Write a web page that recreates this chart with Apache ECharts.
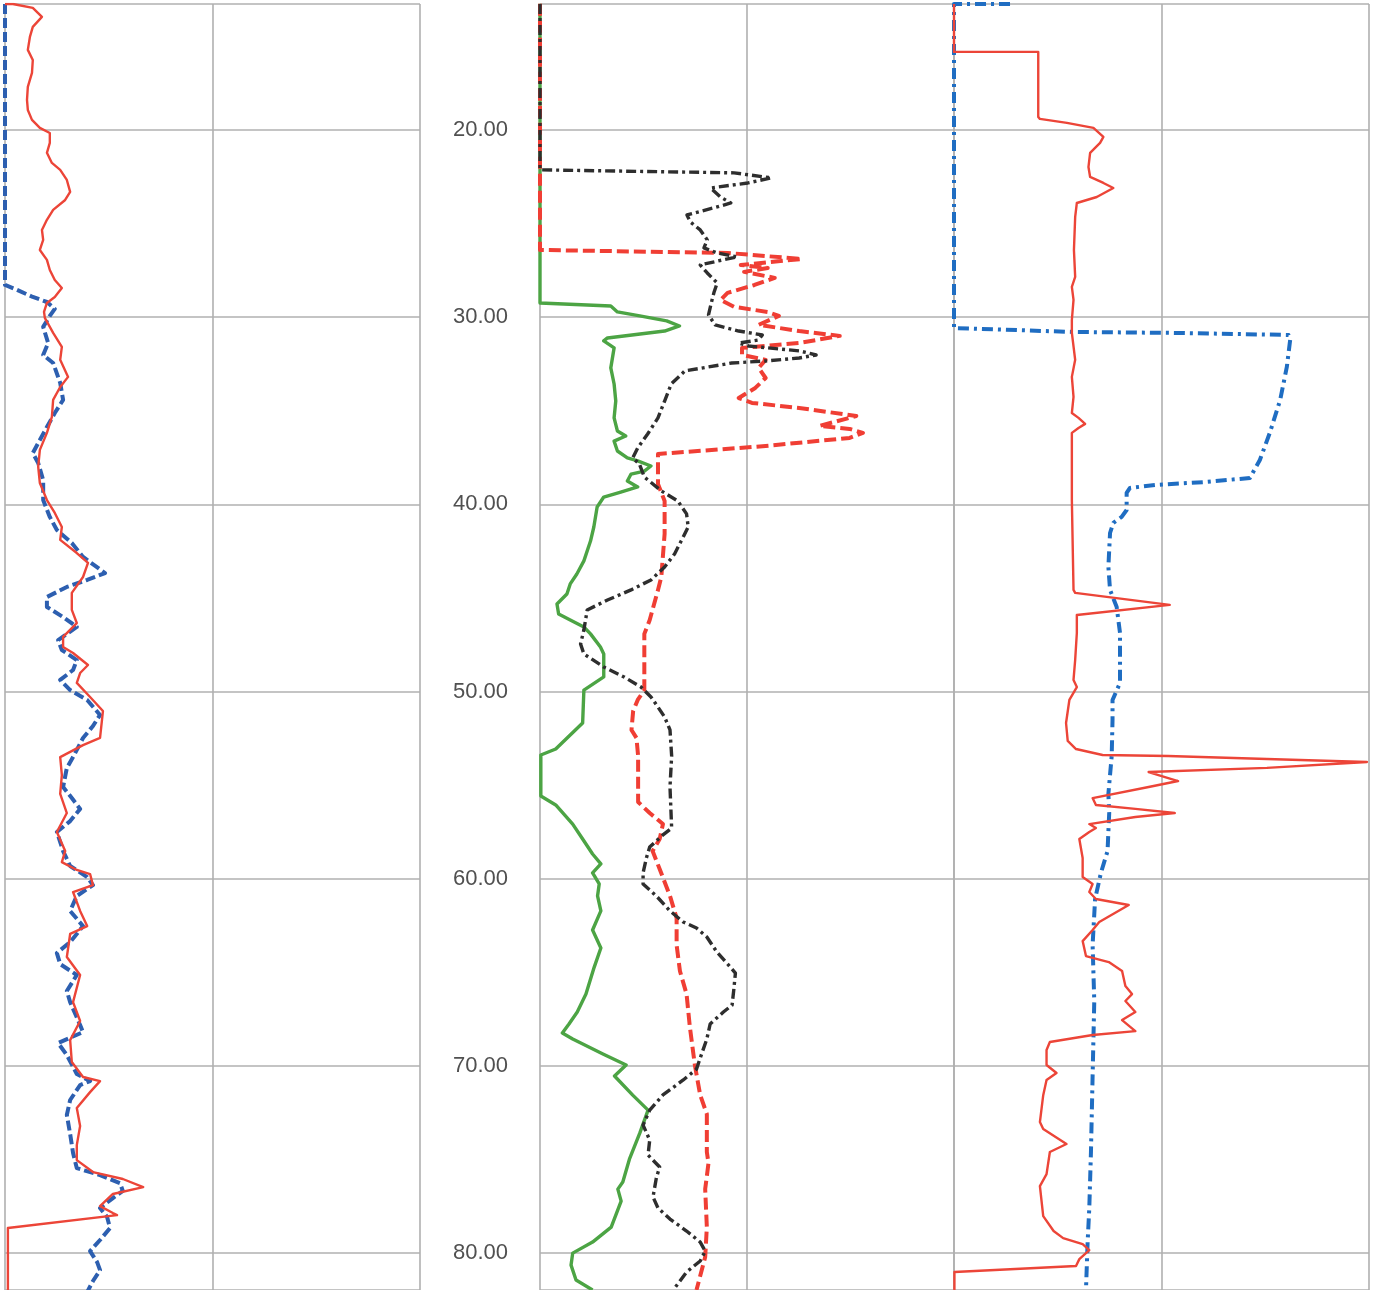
<!DOCTYPE html>
<html>
<head>
<meta charset="utf-8">
<script src="https://cdn.jsdelivr.net/npm/echarts@6/dist/echarts.min.js"></script>
<style>
html,body{margin:0;padding:0;background:#fff;}
#chart{width:1377px;height:1290px;}
</style>
</head>
<body>
<div id="chart"></div>
<script>
// Depth range (m) shown on the vertical axis
const depthMin = 13.27;
const depthMax = 81.97;
const depthTicks = [20, 30, 40, 50, 60, 70, 80];

// Track 1 : [value, depth]
const track1Red = [[0,13.27],[1.9,13.27],[6.7,13.48],[8.9,13.96],[6.7,14.49],[6.0,15.03],[5.5,15.72],[6.7,16.26],[6.5,16.95],[5.5,17.70],[5.3,18.39],[5.5,18.93],[6.5,19.46],[8.4,19.89],[10.8,20.16],[10.8,20.69],[10.1,21.22],[11.3,21.76],[13.3,22.13],[14.9,22.67],[15.7,23.31],[14.5,23.74],[11.6,24.27],[10.1,24.80],[8.9,25.34],[9.2,25.87],[8.4,26.41],[10.1,26.94],[10.8,27.48],[12.0,28.01],[13.7,28.44],[12.0,28.92],[10.1,29.24],[9.4,29.72],[9.6,30.04],[11.6,30.84],[13.7,31.59],[13.3,32.28],[15.2,33.19],[13.3,33.73],[11.6,34.42],[11.3,35.33],[10.1,36.18],[8.4,37.09],[8.0,38.00],[8.4,38.86],[10.1,39.77],[12.0,40.46],[13.7,41.21],[13.3,41.90],[17.3,42.60],[20.0,43.13],[18.8,43.88],[16.1,44.73],[16.1,45.64],[17.3,46.34],[14.0,47.08],[14.0,47.62],[16.4,47.94],[20.0,48.58],[18.1,49.01],[17.3,49.54],[20.5,50.29],[23.6,51.04],[22.9,52.48],[18.8,52.86],[13.3,53.50],[13.7,54.46],[13.3,55.47],[14.9,56.49],[12.5,57.50],[14.5,58.52],[13.7,59.11],[17.3,59.53],[20.5,59.75],[21.2,60.34],[16.4,60.71],[18.1,61.72],[19.8,62.53],[15.7,62.95],[14.9,64.18],[18.1,65.14],[16.4,66.59],[18.1,67.60],[15.7,68.62],[16.1,69.79],[18.8,70.59],[22.9,70.81],[20.5,71.40],[17.3,72.25],[18.1,73.21],[17.3,74.23],[17.3,75.03],[21.2,75.67],[28.4,76.04],[33.3,76.47],[26.0,76.84],[22.9,77.49],[26.0,77.86],[27.0,77.97],[0.7,78.66],[0.7,81.97]];
const track1Blue = [[0,13.27],[0,28.28],[2.9,28.54],[6.7,28.92],[10.1,29.19],[12.0,29.56],[10.8,29.93],[9.2,30.52],[10.4,31.38],[9.2,32.02],[11.6,32.45],[13.3,33.51],[14.0,34.42],[12.0,35.12],[10.1,35.87],[8.4,36.56],[6.7,37.26],[8.0,37.79],[9.2,38.70],[9.2,39.77],[10.8,40.67],[12.5,41.37],[16.1,42.06],[18.8,42.81],[24.1,43.67],[19.8,44.04],[14.9,44.41],[10.1,44.95],[10.1,45.48],[14.0,46.02],[17.3,46.55],[12.8,47.25],[13.7,47.78],[17.3,48.32],[16.4,48.85],[13.3,49.38],[15.7,49.92],[19.8,50.45],[22.9,51.25],[21.2,51.84],[18.8,52.48],[16.4,53.50],[14.9,54.08],[14.0,55.10],[16.1,55.69],[18.1,56.27],[15.7,56.92],[12.5,57.50],[14.0,58.52],[15.7,59.32],[19.8,59.91],[21.2,60.34],[17.3,60.92],[15.7,61.72],[18.8,62.53],[15.7,63.38],[12.5,63.97],[13.3,64.56],[17.3,65.14],[14.9,66.00],[15.7,66.59],[18.1,67.82],[18.8,68.19],[12.8,68.78],[14.9,69.42],[17.3,70.43],[20.5,70.81],[18.1,71.02],[15.7,71.82],[14.9,72.62],[15.7,73.64],[16.4,74.65],[17.3,75.46],[22.9,75.83],[27.7,76.26],[28.4,76.68],[26.0,77.06],[22.9,77.59],[24.6,78.07],[25.3,78.66],[22.9,79.30],[20.5,79.89],[22.2,80.48],[22.9,80.91],[21.2,81.49],[19.8,82.08]];

// Track 2 : [value, depth]
const track2Black = [[0,13.27],[0,22.13],[46.9,22.29],[55.9,22.56],[50.2,22.83],[41.2,23.10],[43.6,23.58],[46.1,23.90],[42.8,24.11],[35.5,24.54],[36.3,24.91],[38.7,25.34],[40.4,25.87],[39.6,26.30],[42.8,26.57],[47.7,26.78],[44.2,26.94],[38.7,27.21],[40.4,27.64],[42.8,28.17],[42.0,28.70],[41.5,29.13],[40.7,29.88],[42.3,30.41],[48.0,30.74],[53.7,30.95],[52.8,31.22],[48.0,31.38],[50.4,31.54],[62.6,31.80],[66.7,32.02],[62.6,32.18],[54.5,32.34],[46.3,32.45],[35.0,32.87],[31.7,33.57],[30.1,34.48],[28.5,35.38],[26.0,36.24],[23.6,36.99],[22.4,37.52],[24.0,37.84],[25.2,38.54],[29.3,39.28],[33.3,39.82],[35.4,40.51],[35.8,41.21],[34.1,41.96],[32.5,42.65],[30.1,43.35],[26.8,44.04],[22.0,44.57],[16.3,45.11],[11.4,45.64],[11.0,46.18],[10.6,46.71],[9.8,47.46],[10.6,47.99],[15.4,48.69],[20.3,49.22],[24.4,49.76],[26.8,50.29],[28.5,50.83],[30.1,51.36],[31.4,52.05],[31.8,53.44],[31.4,55.10],[31.8,57.29],[29.7,57.66],[26.5,58.31],[25.7,58.89],[24.9,59.69],[24.9,60.28],[28.1,60.92],[31.4,61.72],[34.6,62.31],[37.8,62.63],[40.3,63.11],[42.7,63.91],[45.1,64.50],[47.2,65.04],[46.8,65.95],[46.4,66.75],[44.3,67.12],[41.1,67.76],[40.3,68.56],[38.7,69.58],[37.8,70.17],[34.6,70.75],[29.7,71.55],[26.5,72.36],[24.9,73.16],[26.5,73.96],[26.1,74.76],[28.9,75.40],[28.1,75.99],[27.3,77.00],[28.5,77.59],[31.4,78.18],[35.4,78.82],[38.7,79.41],[39.9,79.89],[38.7,80.42],[35.4,81.01],[32.2,81.97]];
const track2Red = [[0,13.26],[0,26.41],[45.3,26.57],[63.2,26.89],[48.5,27.21],[55.0,27.37],[49.3,27.58],[56.7,27.90],[51.8,28.28],[45.3,28.70],[43.6,29.08],[46.9,29.45],[55.0,29.72],[57.7,29.93],[52.8,30.41],[62.6,30.74],[72.4,31.00],[62.6,31.38],[48.8,31.64],[48.8,32.02],[54.5,32.28],[52.8,32.71],[54.5,33.25],[52.0,33.78],[48.0,34.32],[51.2,34.58],[62.6,34.85],[76.4,35.28],[67.5,35.81],[74.8,35.97],[78.0,36.18],[74.8,36.45],[54.5,36.88],[28.5,37.31],[28.5,38.91],[30.1,39.82],[30.1,41.58],[29.3,43.88],[28.5,44.57],[26.5,46.18],[25.2,46.92],[25.2,49.92],[23.6,50.45],[22.5,51.04],[22.1,52.05],[23.3,52.48],[23.7,53.44],[23.7,55.90],[26.5,56.49],[29.7,57.08],[28.9,57.88],[27.2,58.52],[28.9,59.48],[31.4,60.92],[33.0,62.10],[33.0,63.54],[33.8,64.93],[35.4,66.16],[36.2,67.92],[37.4,69.95],[38.7,71.56],[40.3,72.57],[40.3,74.60],[40.7,75.19],[39.9,76.58],[40.3,78.61],[39.9,80.21],[37.8,81.97]];
const track2Green = [[0,13.26],[0,29.24],[17.1,29.40],[18.7,29.72],[24.1,29.93],[30.6,30.20],[33.7,30.47],[30.1,30.74],[16.3,31.11],[15.4,31.27],[17.9,31.64],[17.1,32.71],[17.9,33.57],[18.3,34.48],[17.9,35.38],[18.7,36.08],[20.7,36.35],[17.9,36.62],[18.7,37.15],[21.1,37.52],[23.6,37.68],[26.8,37.95],[25.2,38.22],[22.0,38.38],[21.1,38.75],[23.6,39.07],[19.5,39.34],[15.4,39.61],[13.8,40.14],[13.0,41.21],[12.2,41.96],[10.6,43.02],[8.9,43.72],[7.3,44.25],[6.5,44.79],[4.1,45.32],[4.5,45.86],[7.3,46.18],[10.6,46.55],[12.2,46.92],[14.6,47.62],[15.4,47.99],[15.4,49.22],[10.6,49.92],[10.3,51.68],[3.8,53.07],[0.2,53.39],[0.2,55.58],[3.8,56.06],[7.9,57.08],[10.3,57.88],[12.7,58.68],[14.7,59.21],[12.7,59.69],[14.3,60.28],[13.9,60.92],[14.7,61.72],[12.7,62.74],[14.7,63.70],[13.1,64.72],[11.1,66.16],[9.0,67.12],[7.0,67.76],[5.4,68.24],[7.9,68.56],[15.2,69.36],[20.8,69.95],[18.0,70.54],[22.4,71.56],[26.1,72.36],[24.1,73.59],[21.6,74.98],[20.0,76.20],[18.8,76.58],[19.6,77.22],[17.2,78.61],[12.7,79.41],[7.9,80.00],[7.5,80.64],[8.7,81.44],[12.7,81.97]];

// Track 3 : [value, depth]
const track3Blue = [[13.5,13.27],[0,13.27],[0,30.58],[28.8,30.79],[52.9,30.84],[80.6,30.95],[81.0,31.22],[80.2,32.66],[78.6,34.42],[76.1,36.18],[73.7,37.63],[71.3,38.59],[60.9,38.80],[48.8,38.96],[42.4,39.12],[41.6,39.39],[41.6,40.30],[40.4,40.67],[38.4,40.99],[37.6,41.53],[37.2,43.34],[37.6,44.57],[39.2,45.48],[40.0,46.87],[40.0,49.54],[38.2,50.45],[38.2,51.52],[38.0,53.44],[37.2,55.47],[37.4,56.49],[37.0,58.52],[35.4,59.69],[34.0,61.08],[33.4,63.54],[33.8,66.53],[33.4,70.54],[33.0,74.60],[32.6,77.59],[32.2,79.41],[31.8,81.97]];
const track3Red = [[0,13.27],[0,15.83],[20.3,15.83],[20.3,19.30],[20.7,19.41],[27.2,19.62],[33.6,19.89],[36.0,20.37],[35.2,20.69],[32.8,21.22],[32.4,21.98],[32.8,22.51],[36.0,22.83],[38.4,23.10],[34.4,23.58],[29.6,23.90],[29.2,24.64],[28.9,26.41],[29.2,27.85],[28.4,28.38],[28.8,29.08],[28.4,30.15],[28.4,30.84],[29.2,32.28],[28.4,33.19],[28.8,34.26],[28.4,35.12],[30.0,35.38],[31.6,35.70],[30.0,35.92],[28.4,36.18],[28.4,39.77],[28.8,44.57],[29.2,44.73],[52.0,45.37],[29.6,45.91],[29.6,46.87],[29.2,48.31],[28.8,49.38],[29.6,49.76],[27.8,50.45],[27.0,51.68],[27.4,52.64],[29.4,53.07],[35.8,53.39],[51.6,53.44],[75.4,53.60],[99.5,53.76],[75.4,54.08],[46.9,54.30],[54.0,54.78],[46.9,55.10],[33.4,55.69],[34.2,56.06],[43.7,56.27],[53.2,56.49],[43.7,56.70],[32.6,57.08],[34.2,57.29],[32.6,57.50],[30.2,57.88],[31.0,58.89],[31.0,59.91],[33.4,60.28],[32.6,60.71],[34.2,61.08],[42.1,61.40],[35.0,62.31],[33.4,62.74],[31.0,63.33],[31.8,64.13],[37.3,64.45],[40.5,64.93],[41.3,65.73],[42.9,66.16],[41.3,66.53],[43.7,67.12],[40.5,67.55],[43.7,68.14],[33.4,68.35],[23.1,68.72],[22.3,69.15],[22.3,69.95],[24.7,70.38],[22.3,70.75],[21.5,71.56],[20.7,73.00],[21.5,73.37],[27.1,74.17],[23.1,74.60],[22.3,75.78],[20.7,76.42],[21.5,78.02],[24.0,78.82],[26.3,79.20],[31.0,79.52],[32.6,79.84],[30.2,80.32],[29.4,80.69],[0.1,81.01],[0.1,81.97]];

const gridColor = '#b0b0b0';
const chart = echarts.init(document.getElementById('chart'), null, {renderer: 'canvas'});

const grids = [
  {left: 5, top: 4, width: 415, height: 1286},
  {left: 540, top: 4, width: 414, height: 1286},
  {left: 954, top: 4, width: 415, height: 1286}
];

function xAx(i) {
  return {
    type: 'value', gridIndex: i, min: 0, max: 100, interval: 50,
    axisLine: {show: false}, axisTick: {show: false}, axisLabel: {show: false},
    splitLine: {show: true, lineStyle: {color: gridColor, width: 1.6}}
  };
}
function yAx(i, showLabels) {
  return {
    type: 'value', gridIndex: i, inverse: true, min: depthMin, max: depthMax,
    minInterval: 10, maxInterval: 10, splitNumber: 7,
    axisLine: {show: false}, axisTick: {show: false},
    axisLabel: {
      show: showLabels, margin: 32, fontSize: 22, color: '#505050',
      fontFamily: 'Liberation Sans, Arial, sans-serif',
      showMinLabel: false, showMaxLabel: false,
      formatter: function (v) {
        return depthTicks.indexOf(Math.round(v)) >= 0 && Math.abs(v - Math.round(v)) < 1e-6 ? v.toFixed(2) : '';
      }
    },
    splitLine: {show: true, lineStyle: {color: gridColor, width: 1.6}}
  };
}

function line(name, data, i, color, width, type, z) {
  return {
    name: name, type: 'line', xAxisIndex: i, yAxisIndex: i, data: data,
    symbol: 'none', showSymbol: false, clip: true, z: z || 2,
    lineStyle: {color: color, width: width, type: type, cap: 'butt', join: 'round'}
  };
}

chart.setOption({
  animation: false,
  backgroundColor: '#ffffff',
  grid: grids,
  xAxis: [xAx(0), xAx(1), xAx(2)],
  yAxis: [yAx(0, false), yAx(1, true), yAx(2, false)],
  series: [
    line('Track1 blue', track1Blue, 0, '#2d5fb0', 4, [10, 4], 2),
    line('Track1 red', track1Red, 0, '#ec4538', 2.4, 'solid', 3),
    line('Track2 green', track2Green, 1, '#4ca444', 3.4, 'solid', 2),
    line('Track2 red', track2Red, 1, '#f03e34', 4, [12, 5], 3),
    line('Track2 black', track2Black, 1, '#2e2e2e', 3.4, [10, 4, 3, 4], 4),
    line('Track3 blue', track3Blue, 2, '#1f6dc2', 4, [11, 5, 3, 5], 2),
    line('Track3 red', track3Red, 2, '#ec4538', 2.4, 'solid', 3)
  ]
});
</script>
</body>
</html>
